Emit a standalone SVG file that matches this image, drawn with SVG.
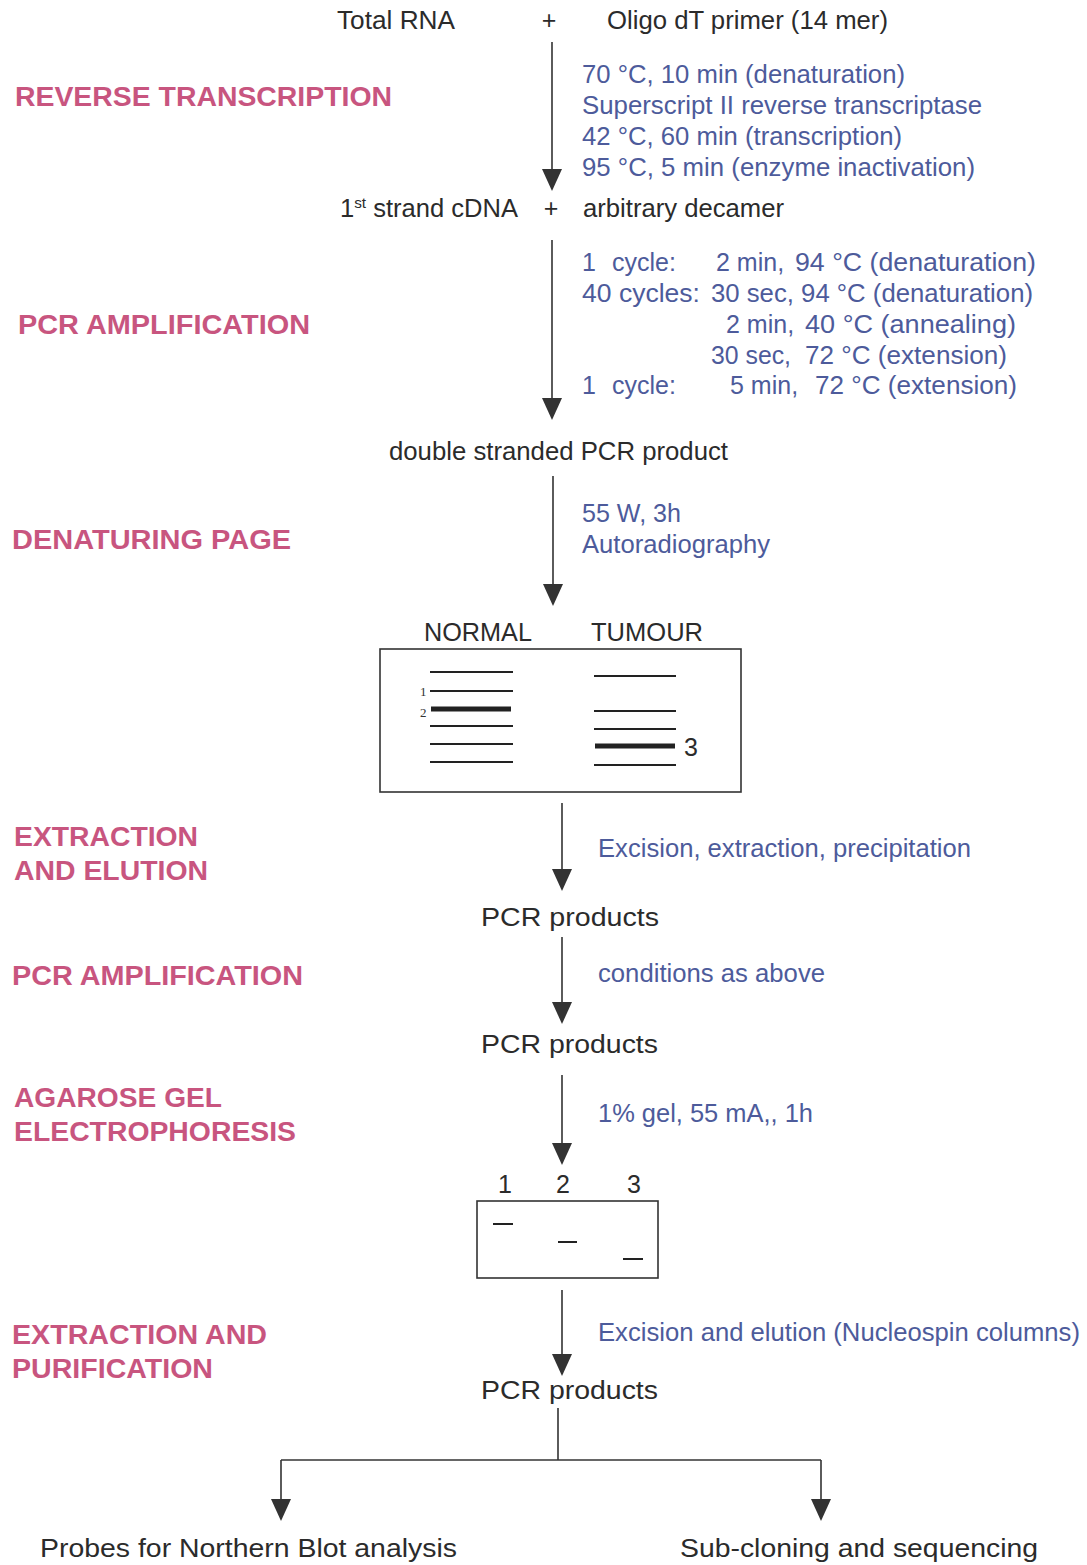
<svg xmlns="http://www.w3.org/2000/svg" width="1087" height="1565" viewBox="0 0 1087 1565">
<style>
  text { font-family: "Liberation Sans", Arial, sans-serif; }
  .k { fill: #2b2b2b; font-size: 25px; }
  .b { fill: #4d5b9b; font-size: 25px; }
  .p { fill: #c8557f; font-size: 27px; font-weight: bold; }
  .ln { stroke: #333; stroke-width: 1.6; fill: none; }
  .head { fill: #333; }
  .band { stroke: #222; stroke-width: 2; }
  .bandT { stroke: #222; stroke-width: 5; }
  .gel { fill: none; stroke: #333; stroke-width: 1.6; }
  .small { font-family: "Liberation Serif", serif; font-size: 13px; fill: #333; }
</style>
<defs>
  <polygon id="ah" points="-10,-22 10,-22 0,0" class="head"/>
</defs>
<rect width="1087" height="1565" fill="#ffffff"/>

<g id="connectors">
  <line class="ln" x1="552" y1="42" x2="552" y2="172"/>
  <use href="#ah" x="552" y="191"/>
  <line class="ln" x1="552" y1="240" x2="552" y2="400"/>
  <use href="#ah" x="552" y="420"/>
  <line class="ln" x1="553" y1="476" x2="553" y2="586"/>
  <use href="#ah" x="553" y="606"/>
  <line class="ln" x1="562" y1="803" x2="562" y2="872"/>
  <use href="#ah" x="562" y="891"/>
  <line class="ln" x1="562" y1="937" x2="562" y2="1004"/>
  <use href="#ah" x="562" y="1024"/>
  <line class="ln" x1="562" y1="1075" x2="562" y2="1145"/>
  <use href="#ah" x="562" y="1165"/>
  <line class="ln" x1="562" y1="1290" x2="562" y2="1356"/>
  <use href="#ah" x="562" y="1376"/>
  <line class="ln" x1="558" y1="1408" x2="558" y2="1460"/>
  <line class="ln" x1="281" y1="1460" x2="821" y2="1460"/>
  <line class="ln" x1="281" y1="1460" x2="281" y2="1502"/>
  <use href="#ah" x="281" y="1521"/>
  <line class="ln" x1="821" y1="1460" x2="821" y2="1502"/>
  <use href="#ah" x="821" y="1521"/>
</g>

<g id="labels-steps">
  <text class="p" x="15" y="106" textLength="377" lengthAdjust="spacingAndGlyphs">REVERSE TRANSCRIPTION</text>
  <text class="p" x="18" y="334" textLength="292" lengthAdjust="spacingAndGlyphs">PCR AMPLIFICATION</text>
  <text class="p" x="12" y="549" textLength="279" lengthAdjust="spacingAndGlyphs">DENATURING PAGE</text>
  <text class="p" x="14" y="846" textLength="184" lengthAdjust="spacingAndGlyphs">EXTRACTION</text>
  <text class="p" x="14" y="880" textLength="194" lengthAdjust="spacingAndGlyphs">AND ELUTION</text>
  <text class="p" x="12" y="985" textLength="291" lengthAdjust="spacingAndGlyphs">PCR AMPLIFICATION</text>
  <text class="p" x="14" y="1107" textLength="208" lengthAdjust="spacingAndGlyphs">AGAROSE GEL</text>
  <text class="p" x="14" y="1141" textLength="282" lengthAdjust="spacingAndGlyphs">ELECTROPHORESIS</text>
  <text class="p" x="12" y="1344" textLength="255" lengthAdjust="spacingAndGlyphs">EXTRACTION AND</text>
  <text class="p" x="12" y="1378" textLength="201" lengthAdjust="spacingAndGlyphs">PURIFICATION</text>
</g>

<g id="node-start">
  <text class="k" x="337" y="29" textLength="118" lengthAdjust="spacingAndGlyphs">Total RNA</text>
  <text class="k" x="549" y="29" text-anchor="middle">+</text>
  <text class="k" x="607" y="29" textLength="281" lengthAdjust="spacingAndGlyphs">Oligo dT primer (14 mer)</text>
</g>

<g id="cond-rt">
  <text class="b" x="582" y="83" textLength="323" lengthAdjust="spacingAndGlyphs">70 °C, 10 min (denaturation)</text>
  <text class="b" x="582" y="114" textLength="400" lengthAdjust="spacingAndGlyphs">Superscript II reverse transcriptase</text>
  <text class="b" x="582" y="145" textLength="320" lengthAdjust="spacingAndGlyphs">42 °C, 60 min (transcription)</text>
  <text class="b" x="582" y="176" textLength="393" lengthAdjust="spacingAndGlyphs">95 °C, 5 min (enzyme inactivation)</text>
</g>

<g id="node-cdna">
  <text class="k" x="340" y="217" textLength="178" lengthAdjust="spacingAndGlyphs">1<tspan font-size="15" dy="-9">st</tspan><tspan dy="9"> strand cDNA</tspan></text>
  <text class="k" x="551" y="217" text-anchor="middle">+</text>
  <text class="k" x="583" y="217" textLength="201" lengthAdjust="spacingAndGlyphs">arbitrary decamer</text>
</g>

<g id="cond-pcr">
  <text class="b" x="582" y="271">1</text>
  <text class="b" x="612" y="271">cycle:</text>
  <text class="b" x="716" y="271">2 min,</text>
  <text class="b" x="795" y="271" textLength="241" lengthAdjust="spacingAndGlyphs">94 °C (denaturation)</text>

  <text class="b" x="582" y="302" textLength="118" lengthAdjust="spacingAndGlyphs">40 cycles:</text>
  <text class="b" x="711" y="302" textLength="322" lengthAdjust="spacingAndGlyphs">30 sec, 94 °C (denaturation)</text>

  <text class="b" x="726" y="333">2 min,</text>
  <text class="b" x="805" y="333" textLength="211" lengthAdjust="spacingAndGlyphs">40 °C (annealing)</text>

  <text class="b" x="711" y="364" textLength="80" lengthAdjust="spacingAndGlyphs">30 sec,</text>
  <text class="b" x="805" y="364" textLength="202" lengthAdjust="spacingAndGlyphs">72 °C (extension)</text>

  <text class="b" x="582" y="394">1</text>
  <text class="b" x="612" y="394">cycle:</text>
  <text class="b" x="730" y="394">5 min,</text>
  <text class="b" x="815" y="394" textLength="202" lengthAdjust="spacingAndGlyphs">72 °C (extension)</text>
</g>

<g id="node-ds">
  <text class="k" x="389" y="460" textLength="339" lengthAdjust="spacingAndGlyphs">double stranded PCR product</text>
</g>

<g id="cond-page">
  <text class="b" x="582" y="522" textLength="99" lengthAdjust="spacingAndGlyphs">55 W, 3h</text>
  <text class="b" x="582" y="553" textLength="188" lengthAdjust="spacingAndGlyphs">Autoradiography</text>
</g>

<g id="node-gel1">
  <text class="k" x="424" y="641" font-size="22" textLength="108" lengthAdjust="spacingAndGlyphs">NORMAL</text>
  <text class="k" x="591" y="641" font-size="22" textLength="112" lengthAdjust="spacingAndGlyphs">TUMOUR</text>
  <rect class="gel" x="380" y="649" width="361" height="143"/>
  <line class="band" x1="430" y1="672" x2="513" y2="672"/>
  <line class="band" x1="430" y1="691" x2="513" y2="691"/>
  <line class="bandT" x1="431" y1="709" x2="511" y2="709"/>
  <line class="band" x1="430" y1="726" x2="513" y2="726"/>
  <line class="band" x1="430" y1="744" x2="513" y2="744"/>
  <line class="band" x1="430" y1="762" x2="513" y2="762"/>
  <text class="small" x="420" y="696">1</text>
  <text class="small" x="420" y="717">2</text>
  <line class="band" x1="594" y1="676" x2="676" y2="676"/>
  <line class="band" x1="594" y1="711" x2="676" y2="711"/>
  <line class="band" x1="594" y1="729" x2="676" y2="729"/>
  <line class="bandT" x1="595" y1="746" x2="675" y2="746"/>
  <line class="band" x1="594" y1="765" x2="676" y2="765"/>
  <text class="k" x="684" y="756" font-size="19">3</text>
</g>

<g id="cond-extract">
  <text class="b" x="598" y="857" textLength="373" lengthAdjust="spacingAndGlyphs">Excision, extraction, precipitation</text>
</g>

<g id="node-pcr1">
  <text class="k" x="481" y="926" font-size="26" textLength="178" lengthAdjust="spacingAndGlyphs">PCR products</text>
</g>

<g id="cond-pcr2">
  <text class="b" x="598" y="982" textLength="227" lengthAdjust="spacingAndGlyphs">conditions as above</text>
</g>

<g id="node-pcr2">
  <text class="k" x="481" y="1053" font-size="26" textLength="177" lengthAdjust="spacingAndGlyphs">PCR products</text>
</g>

<g id="cond-agarose">
  <text class="b" x="598" y="1122" textLength="215" lengthAdjust="spacingAndGlyphs">1% gel, 55 mA,, 1h</text>
</g>

<g id="node-gel2">
  <text class="k" x="505" y="1193" font-size="24" text-anchor="middle">1</text>
  <text class="k" x="563" y="1193" font-size="24" text-anchor="middle">2</text>
  <text class="k" x="634" y="1193" font-size="24" text-anchor="middle">3</text>
  <rect class="gel" x="477" y="1201" width="181" height="77"/>
  <line class="band" x1="493" y1="1224" x2="513" y2="1224" stroke-width="1.6"/>
  <line class="band" x1="558" y1="1242" x2="577" y2="1242" stroke-width="1.6"/>
  <line class="band" x1="623" y1="1259" x2="643" y2="1259" stroke-width="1.6"/>
</g>

<g id="cond-purify">
  <text class="b" x="598" y="1341" textLength="482" lengthAdjust="spacingAndGlyphs">Excision and elution (Nucleospin columns)</text>
</g>

<g id="node-pcr3">
  <text class="k" x="481" y="1399" font-size="26" textLength="177" lengthAdjust="spacingAndGlyphs">PCR products</text>
</g>

<g id="node-northern">
  <text class="k" x="40" y="1557" textLength="417" lengthAdjust="spacingAndGlyphs">Probes for Northern Blot analysis</text>
</g>

<g id="node-subclone">
  <text class="k" x="680" y="1557" textLength="358" lengthAdjust="spacingAndGlyphs">Sub-cloning and sequencing</text>
</g>
</svg>
